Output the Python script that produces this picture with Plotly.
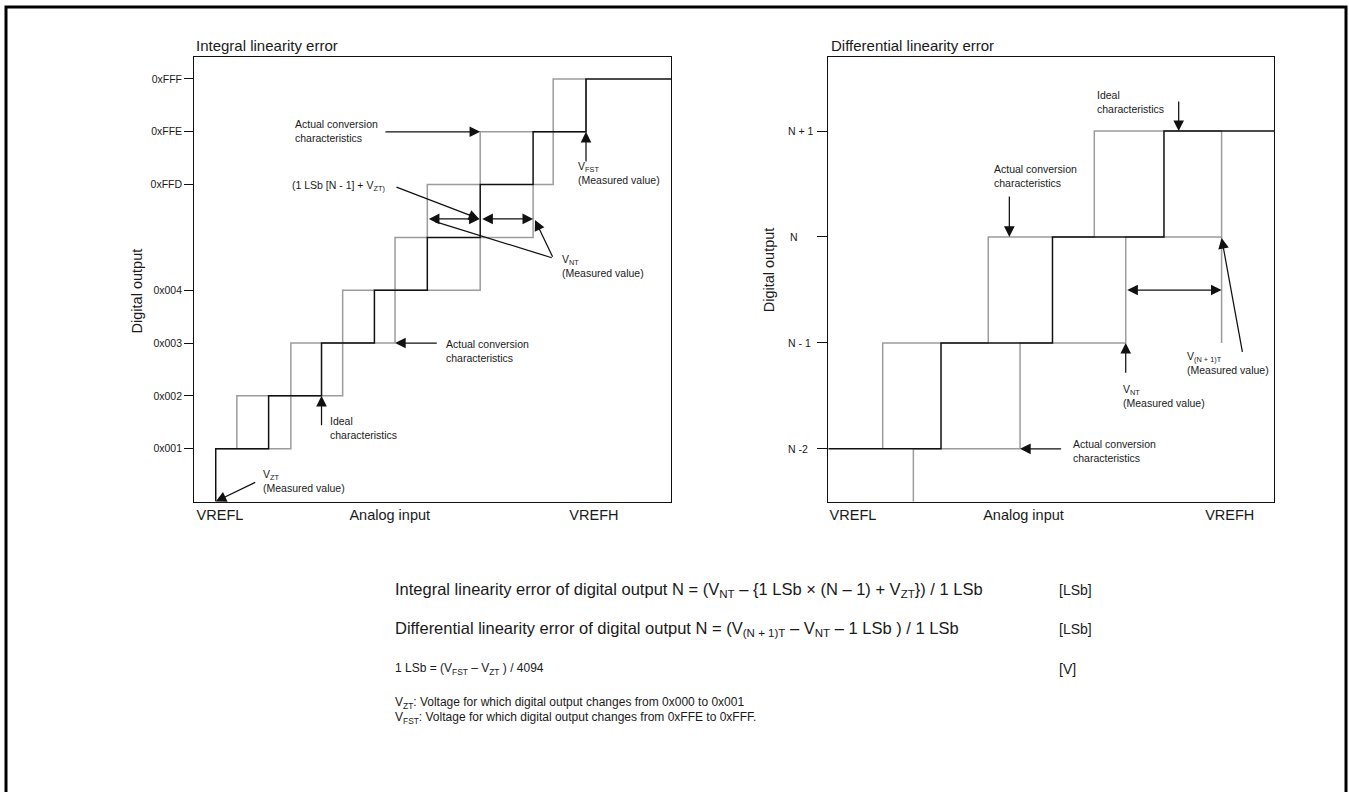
import plotly.graph_objects as go

W, H = 1349, 792
FONT = "Liberation Sans, Arial, sans-serif"
TXT = "#1a1a1a"
GRAY = "#9c9c9c"
BLACK = "#111111"

# ---------------- DATA ----------------
# Left panel: integral linearity error (x in ideal-LSb units from V_ZT, y = code step index)
int_tick_levels = [1, 2, 3, 4, 6, 7, 8]
int_tick_labels = ["0x001", "0x002", "0x003", "0x004", "0xFFD", "0xFFE", "0xFFF"]
int_ideal_transitions = [0, 1, 2, 3, 4, 5, 6, 7]
int_actual_a_transitions = [0.40, 1.42, 2.40, 3.39, 4.00, 5.00, 6.38]
int_actual_b_transitions = [1.42, 2.40, 3.39, 5.00, 6.00, 6.38, 7.00]
int_x_label_pos = [0.08, 3.29, 7.15]
int_x_labels = ["VREFL", "Analog input", "VREFH"]

# Right panel: differential linearity error (y: N-2 -> 0 ... N+1 -> 3)
diff_tick_levels = [0, 1, 2, 3]
diff_tick_labels = ["N -2", "N - 1", "N", "N + 1"]
diff_ideal_transitions = [0, 1, 2]
diff_actual_a_transitions = [-0.523, 0.424, 1.375]
diff_actual_b_transitions = [-0.248, 0.709, 1.657, 2.517]
diff_vnt = 1.657
diff_vn1t = 2.517
diff_x_label_pos = [-0.79, 0.74, 2.59]
diff_x_labels = ["VREFL", "Analog input", "VREFH"]

# Formula block
formula_rows = [
    "Integral linearity error of digital output N = (V<sub>NT</sub> – {1 LSb × (N – 1) + V<sub>ZT</sub>}) / 1 LSb",
    "Differential linearity error of digital output N = (V<sub>(N + 1)T</sub> – V<sub>NT</sub> – 1 LSb ) / 1 LSb",
    "1 LSb = (V<sub>FST</sub> – V<sub>ZT</sub> ) / 4094",
    "V<sub>ZT</sub>: Voltage for which digital output changes from 0x000 to 0x001",
    "V<sub>FST</sub>: Voltage for which digital output changes from 0xFFE to 0xFFF.",
]
formula_sizes = [16.5, 16.5, 12, 12, 12]
formula_units = ["[LSb]", "[LSb]", "[V]", "", ""]

INT_X = [-0.405, 8.607]
INT_Y = [0.0, 8.41]
DIFF_X = [-1.011, 2.987]
DIFF_Y = [-0.497, 3.696]


def step_path(x_start, level_start, transitions, x_end=None):
    xs, ys = [x_start], [level_start]
    lvl = level_start
    for t in transitions:
        xs.append(t); ys.append(lvl)
        lvl += 1
        xs.append(t); ys.append(lvl)
    if x_end is not None:
        xs.append(x_end); ys.append(lvl)
    return xs, ys


def px(x):
    return x / W


def py(y):
    return 1 - y / H


fig = go.Figure()


def add_line(xs, ys, color, xa, ya, width=1.5):
    fig.add_trace(go.Scatter(x=xs, y=ys, mode="lines", xaxis=xa, yaxis=ya,
                             line=dict(color=color, width=width),
                             hoverinfo="skip", showlegend=False))


# Left panel traces
xa, ya = step_path(0, 1, int_actual_a_transitions, 7.0)
add_line(xa, ya, GRAY, "x", "y")
xb, yb = step_path(0.40, 1, int_actual_b_transitions)
add_line(xb, yb, GRAY, "x", "y")
xi, yi = step_path(0, 0, int_ideal_transitions, INT_X[1])
add_line(xi, yi, BLACK, "x", "y")

# Right panel traces
xa, ya = step_path(diff_actual_a_transitions[0], 0, diff_actual_a_transitions, diff_vn1t)
add_line(xa, ya, GRAY, "x2", "y2")
xb, yb = step_path(diff_actual_b_transitions[0], -1, diff_actual_b_transitions)
add_line(xb, yb, GRAY, "x2", "y2")
add_line([diff_vn1t, diff_vn1t], [1, 2], GRAY, "x2", "y2")
xi, yi = step_path(DIFF_X[0], 0, diff_ideal_transitions, DIFF_X[1])
add_line(xi, yi, BLACK, "x2", "y2")

ydom = [py(501.5), py(57.3)]
axis_common = dict(showgrid=False, zeroline=False, showline=True, mirror=True,
                   linecolor=BLACK, linewidth=1.3, fixedrange=True)

fig.update_layout(
    width=W, height=H, margin=dict(l=0, r=0, t=0, b=0),
    paper_bgcolor="white", plot_bgcolor="white",
    font=dict(family=FONT, color=TXT),
    xaxis=dict(domain=[px(194.3), px(671)], range=INT_X, anchor="y",
               tickvals=int_x_label_pos, ticktext=int_x_labels, ticks="",
               tickfont=dict(size=14.5, color=TXT), **axis_common),
    yaxis=dict(domain=ydom, range=INT_Y, anchor="x",
               tickvals=int_tick_levels, ticktext=int_tick_labels,
               ticks="outside", ticklen=9, tickwidth=1.2, tickcolor=BLACK,
               tickfont=dict(size=10.5, color=TXT), ticklabelstandoff=0, **axis_common),
    yaxis3=dict(overlaying="y", anchor="x", range=INT_Y, tickvals=int_tick_levels,
                ticks="inside", ticklen=9, tickwidth=1.2, tickcolor=BLACK,
                showticklabels=False, showgrid=False, zeroline=False, showline=False),
    xaxis2=dict(domain=[px(828.3), px(1274)], range=DIFF_X, anchor="y2",
                tickvals=diff_x_label_pos, ticktext=diff_x_labels, ticks="",
                tickfont=dict(size=14.5, color=TXT), **axis_common),
    yaxis2=dict(domain=ydom, range=DIFF_Y, anchor="x2",
                tickvals=diff_tick_levels, ticks="outside", ticklen=10, tickwidth=1.2,
                tickcolor=BLACK, showticklabels=False, **axis_common),
    yaxis4=dict(overlaying="y2", anchor="x2", range=DIFF_Y, tickvals=diff_tick_levels,
                ticks="inside", ticklen=10, tickwidth=1.2, tickcolor=BLACK,
                showticklabels=False, showgrid=False, zeroline=False, showline=False),
)

ann = []


def text(x, y, s, xr, yr, size=10.5, anchor="left", angle=0):
    ann.append(dict(x=x, y=y, xref=xr, yref=yr, text=s, showarrow=False,
                    xanchor=anchor, yanchor="middle", align="left", textangle=angle,
                    font=dict(size=size, color=TXT, family=FONT)))


def arrow(x0, y0, x1, y1, xr, yr, head=2, side="end"):
    ann.append(dict(x=x1, y=y1, ax=x0, ay=y0, xref=xr, yref=yr, axref=xr, ayref=yr,
                    text="", showarrow=True, arrowhead=head, arrowside=side,
                    arrowsize=1.7, arrowwidth=1.25, arrowcolor=BLACK, standoff=0,
                    startstandoff=0))


# Left panel annotations
text(1.455, 7.01, "Actual conversion<br>characteristics", "x", "y")
arrow(3.18, 7.0, 5.0, 7.0, "x", "y")
text(1.405, 5.98, "(1 LSb [N - 1] + V<sub>ZT)</sub>", "x", "y")
arrow(3.389, 5.962, 4.983, 5.35, "x", "y")
arrow(4.0, 5.35, 4.99, 5.35, "x", "y", side="end+start")
arrow(5.01, 5.35, 6.0, 5.35, "x", "y", side="end+start")
text(6.51, 4.46, "V<sub>NT</sub><br>(Measured value)", "x", "y")
arrow(6.382, 4.606, 4.146, 5.30, "x", "y", head=0)
arrow(6.382, 4.606, 6.036, 5.33, "x", "y")
text(6.81, 6.225, "V<sub>FST</sub><br>(Measured value)", "x", "y")
arrow(7.0, 6.41, 7.0, 7.0, "x", "y")
text(4.316, 2.845, "Actual conversion<br>characteristics", "x", "y")
arrow(4.208, 3.0, 3.39, 3.0, "x", "y")
text(2.117, 1.392, "Ideal<br>characteristics", "x", "y")
arrow(2.0, 1.417, 2.0, 2.0, "x", "y")
text(0.856, 0.392, "V<sub>ZT</sub><br>(Measured value)", "x", "y")
arrow(0.775, 0.375, 0.0, 0.0, "x", "y")

# Right panel annotations
text(1.381, 3.274, "Ideal<br>characteristics", "x2", "y2")
arrow(2.132, 3.293, 2.132, 3.0, "x2", "y2")
text(0.455, 2.572, "Actual conversion<br>characteristics", "x2", "y2")
arrow(0.613, 2.396, 0.613, 2.0, "x2", "y2")
arrow(diff_vnt, 1.499, diff_vn1t, 1.499, "x2", "y2", side="end+start")
arrow(2.706, 0.901, diff_vn1t, 1.99, "x2", "y2")
text(2.188, 0.814, "V<sub>(N + 1)T</sub><br>(Measured value)", "x2", "y2")
arrow(diff_vnt, 0.705, diff_vnt, 1.0, "x2", "y2")
text(1.614, 0.499, "V<sub>NT</sub><br>(Measured value)", "x2", "y2")
arrow(1.091, 0.0, 0.709, 0.0, "x2", "y2")
text(1.166, -0.017, "Actual conversion<br>characteristics", "x2", "y2")

# right panel tick labels
for lvl, lab in zip(diff_tick_levels, diff_tick_labels):
    text(px(788.3 if lab == "N" else 786), lvl, lab, "paper", "y2")

# Titles and axis titles
text(px(194), py(46), "Integral linearity error", "paper", "paper", size=15)
text(px(829), py(46), "Differential linearity error", "paper", "paper", size=15)
text(px(136.7), py(290.7), "Digital output", "paper", "paper", size=14.5, anchor="center", angle=-90)
text(px(769.3), py(270), "Digital output", "paper", "paper", size=14.5, anchor="center", angle=-90)

# Formula block
row_y = [590, 629, 669, 703, 718]
for s, u, yy, fs in zip(formula_rows, formula_units, row_y, formula_sizes):
    text(px(393), py(yy), s, "paper", "paper", size=fs)
    if u:
        text(px(1057), py(yy), u, "paper", "paper", size=14)

fig.update_layout(annotations=ann)

# Outer frame
fig.add_shape(type="rect", xref="paper", yref="paper", x0=px(6), x1=px(1346),
              y0=-0.05, y1=py(7), line=dict(color="black", width=3))

fig.write_html("out.html", config={"displayModeBar": False},
               post_script="document.body.style.margin='0';")
